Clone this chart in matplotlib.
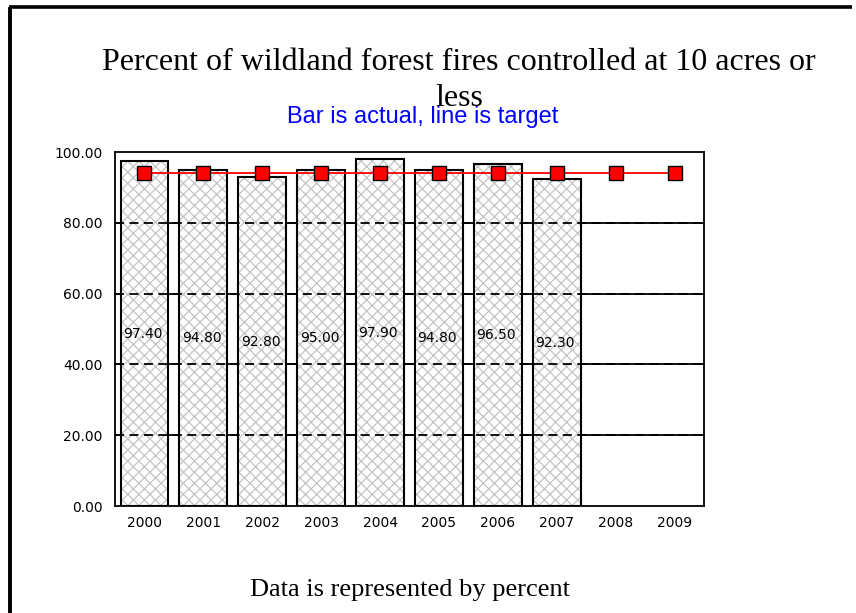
import matplotlib
matplotlib.use("Agg")
import matplotlib.pyplot as plt
from matplotlib.lines import Line2D
import numpy as np

years = ["2000", "2001", "2002", "2003", "2004", "2005", "2006", "2007", "2008", "2009"]
actual = [97.40, 94.80, 92.80, 95.00, 97.90, 94.80, 96.50, 92.30]
target = [94.0, 94.0, 94.0, 94.0, 94.0, 94.0, 94.0, 94.0, 94.0, 94.0]
yticks = [0, 20, 40, 60, 80, 100]

W, H = 856, 613
fig = plt.figure(figsize=(W / 100, H / 100), dpi=100)
fig.patch.set_facecolor("white")

# frame lines (left and top) of the page
fig.add_artist(Line2D([10 / W, 10 / W], [0, 1 - 6.5 / H], transform=fig.transFigure,
                      color="black", lw=2.8, solid_capstyle="butt"))
fig.add_artist(Line2D([8.5 / W, 852 / W], [1 - 6.5 / H, 1 - 6.5 / H], transform=fig.transFigure,
                      color="black", lw=2.6, solid_capstyle="butt"))

ax_l, ax_r, ax_t, ax_b = 115, 704, 152, 506
ax = fig.add_axes([ax_l / W, 1 - ax_b / H, (ax_r - ax_l) / W, (ax_b - ax_t) / H])

x = np.arange(len(years))
xa = np.arange(len(actual))
ax.set_xlim(-0.5, len(years) - 0.5)
ax.set_ylim(0, 100)

# solid gridlines behind
for v in yticks[1:-1]:
    ax.axhline(v, color="black", lw=1.3, zorder=0)

bw = 0.81
plt.rcParams["hatch.linewidth"] = 0.9
ax.bar(xa, actual, width=bw, color="white", edgecolor="#c4c4c4", hatch="xxx", lw=0, zorder=1)
ax.bar(xa, actual, width=bw, color="none", edgecolor="black", lw=1.5, zorder=3)

# dashed gridlines over bars
for v in yticks[1:-1]:
    ax.axhline(v, color="black", lw=1.3, ls=(0, (5, 3)), zorder=2)

for xi, v in zip(xa, actual):
    ax.text(xi - 0.03, v / 2, f"{v:.2f}", ha="center", va="center", fontsize=10,
            family="DejaVu Sans", zorder=4)

ax.plot(x, target, color="red", lw=1.3, marker="s", markersize=10,
        markerfacecolor="red", markeredgecolor="black", markeredgewidth=1.0, zorder=5)

ax.set_yticks(yticks)
ax.set_yticklabels([f"{v:.2f}" for v in yticks], fontsize=10, family="DejaVu Sans")
ax.set_xticks(x)
ax.set_xticklabels(years, fontsize=10, family="DejaVu Sans")
ax.tick_params(axis="both", length=0, pad=7)
ax.tick_params(axis="y", pad=9)
for s in ax.spines.values():
    s.set_linewidth(1.3)
    s.set_zorder(6)

fig.text(459 / W, 1 - 62 / H, "Percent of wildland forest fires controlled at 10 acres or",
         ha="center", va="center", family="Liberation Serif", fontsize=23)
fig.text(459 / W, 1 - 98 / H, "less", ha="center", va="center",
         family="Liberation Serif", fontsize=23)
fig.text(423 / W, 1 - 117 / H, "Bar is actual, line is target", ha="center", va="center",
         family="Liberation Sans", fontsize=17, color="#0000ff")
fig.text(410 / W, 1 - 590 / H, "Data is represented by percent", ha="center", va="center",
         family="Liberation Serif", fontsize=19)

fig.savefig("out.png", dpi=100)
